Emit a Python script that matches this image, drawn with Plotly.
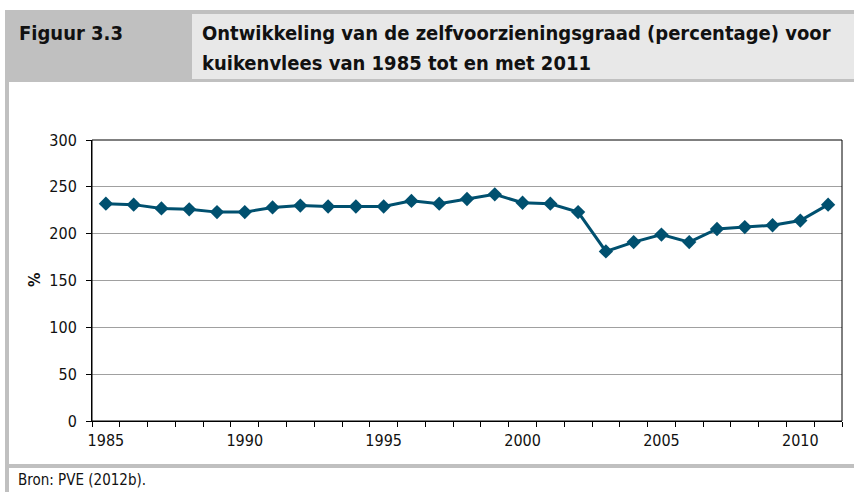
import plotly.graph_objects as go

years = list(range(1985, 2012))
values = [232, 231, 227, 226, 223, 223, 228, 230, 229, 229, 229, 235, 232, 237,
          242, 233, 232, 223, 181, 191, 199, 191, 205, 207, 209, 214, 231]
x_tick_labels = ["1985", "1990", "1995", "2000", "2005", "2010"]
x_tick_vals = [1985, 1990, 1995, 2000, 2005, 2010]
y_tick_vals = [0, 50, 100, 150, 200, 250, 300]

W, H = 854, 492
L, R, T, B = 92, 842, 140, 421

def px(x):
    return (x - L) / (R - L)

def py(y):
    return (B - y) / (B - T)

tick_font = "DejaVu Sans Condensed, Liberation Sans Narrow, DejaVu Sans, sans-serif"
head_font = "Liberation Sans Narrow, DejaVu Sans Condensed, Roboto, sans-serif"
LINE = "#00506f"

fig = go.Figure()
fig.add_trace(go.Scatter(
    x=years, y=values, mode="lines+markers",
    line=dict(color=LINE, width=3),
    marker=dict(symbol="diamond", size=11, color=LINE),
    hoverinfo="x+y", showlegend=False,
))

shapes = []
def rect(x0, y0, x1, y1, fill):
    shapes.append(dict(type="rect", xref="paper", yref="paper",
                       x0=px(x0), x1=px(x1), y0=py(y1), y1=py(y0),
                       fillcolor=fill, line=dict(width=0), layer="below"))

rect(5, 10, 854, 82, "#c0c0c0")
rect(192, 14, 854, 79, "#e8e8e8")
rect(5, 82, 9, 492, "#c0c0c0")
rect(5, 464, 854, 468, "#c0c0c0")
shapes.append(dict(type="rect", xref="paper", yref="paper", x0=0, x1=1, y0=0, y1=1,
                   line=dict(color="black", width=1), fillcolor="rgba(0,0,0,0)", layer="above"))

annotations = [
    dict(text="<b>Figuur 3.3</b>", x=px(17), y=py(33), xanchor="left", yanchor="middle",
         font=dict(family=head_font, size=20, color="#111111")),
    dict(text="<b>Ontwikkeling van de zelfvoorzieningsgraad (percentage) voor</b>",
         x=px(200), y=py(33), xanchor="left", yanchor="middle",
         font=dict(family=head_font, size=20, color="#111111")),
    dict(text="<b>kuikenvlees van 1985 tot en met 2011</b>",
         x=px(200), y=py(63), xanchor="left", yanchor="middle",
         font=dict(family=head_font, size=20, color="#111111")),
    dict(text="<b>%</b>", x=px(34), y=py(280), xanchor="center", yanchor="middle",
         textangle=-90, font=dict(family=tick_font, size=16, color="#111111")),
    dict(text="Bron: PVE (2012b).", x=px(16), y=py(480), xanchor="left", yanchor="middle",
         font=dict(family=tick_font, size=15, color="#111111")),
]
for a in annotations:
    a.update(xref="paper", yref="paper", showarrow=False)

fig.update_layout(
    width=W, height=H,
    margin=dict(l=L, r=W - R, t=T, b=H - B, pad=0),
    paper_bgcolor="white", plot_bgcolor="white",
    shapes=shapes, annotations=annotations,
    xaxis=dict(range=[1984.5, 2011.5], tickvals=x_tick_vals, ticktext=x_tick_labels,
               ticks="outside", ticklen=5, tickcolor="rgba(0,0,0,0)",
               minor=dict(tickvals=[y + 0.5 for y in range(1984, 2012)], ticks="outside",
                          ticklen=5, tickcolor="black", showgrid=False),
               showgrid=False, zeroline=False, showline=True, linecolor="black", linewidth=1,
               tickfont=dict(family=tick_font, size=16, color="#111111")),
    yaxis=dict(range=[0, 300], tickvals=y_tick_vals, ticks="outside", ticklen=5,
               tickcolor="black", showgrid=True, gridcolor="#a0a0a0", gridwidth=1,
               zeroline=False, showline=True, linecolor="black", linewidth=1,
               ticklabelstandoff=6,
               tickfont=dict(family=tick_font, size=16, color="#111111")),
)

fig.write_html("out.html", config={"displayModeBar": False},
               post_script="document.body.style.margin='0';document.body.style.overflow='hidden';")
